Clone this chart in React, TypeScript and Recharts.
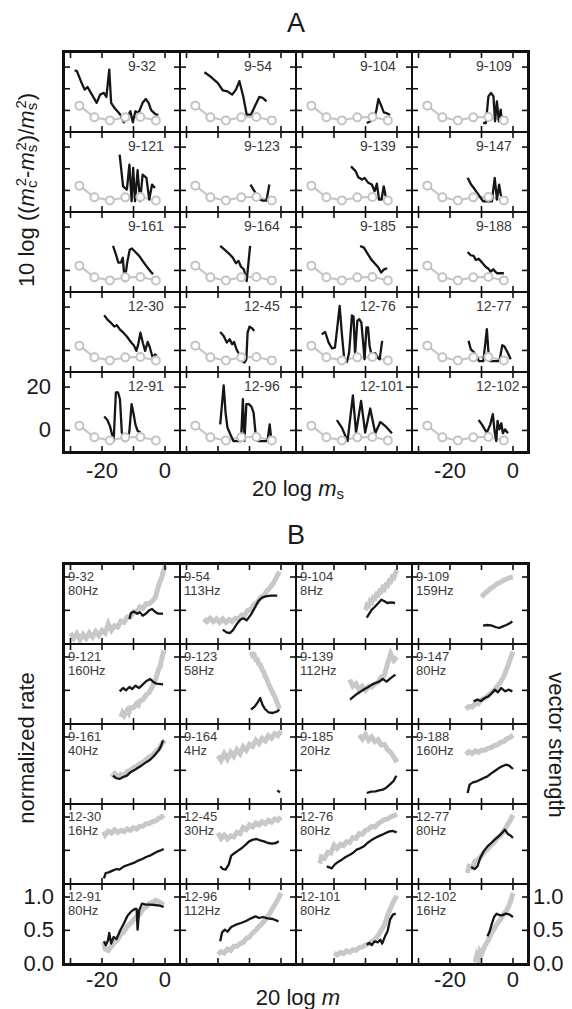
import React from 'react';
import { LineChart, Line, XAxis, YAxis } from 'recharts';

// ---------- shared cell geometry ----------
const CW = 114;
const CH = 78;
const GAP = 2;
const BORDER = 3;
const GRID_LEFT = 62;
const A_TOP = 50;
const B_TOP = 562;
const X_DOMAIN = [-31.75, 4.45];
const X_TICKS = [-30, -20, -10, 0];
const X_LABELS = [-20, 0];
const A_Y_DOMAIN = [-9.5, 26.5];
const A_Y_TICKS = [0, 10, 20];
const A_Y_LABELS = [20, 0];
const B_Y_DOMAIN = [0.01, 1.18];
const B_Y_TICKS = [0.5, 1];
const B_Y_LABELS = ['1.0', '0.5', '0.0'];
const B_Y_LABEL_VALUES = [1, 0.5, 0];

const FONT = '"Liberation Sans", Arial, Helvetica, sans-serif';

// ---------- panel A ----------
const units = [
  '9-32', '9-54', '9-104', '9-109',
  '9-121', '9-123', '9-139', '9-147',
  '9-161', '9-164', '9-185', '9-188',
  '12-30', '12-45', '12-76', '12-77',
  '12-91', '12-96', '12-101', '12-102',
];

// grey reference (open circles), same in every cell
const refX = [-27.2, -22.4, -17.5, -12.6, -7.8, -2.9];
const refY = [2.2, -3.2, -4.6, -3.2, -3.0, -4.6];

const a932 = [[-28.7, 18.5], [-28, 18.2], [-26.7, 13.5], [-25.5, 9.6], [-24.6, 10.8], [-23.2, 7.3], [-21.7, 3.5], [-20.6, 7.3], [-19.4, 8.1], [-18.6, 6.2], [-17.7, 18.8], [-17.1, 3.5], [-16, 1.1], [-14.2, -1.9], [-13.1, -5.5], [-12.1, -3.5], [-11, -0.4], [-10.2, -5.5], [-9.4, -0.4], [-8.4, -1.2], [-7.1, 3.5], [-6.1, 5.3], [-5.2, 3.5], [-4.4, 0.1], [-2.9, -1.9], [-2.1, -1.9]];
const a954 = [[-24.3, 17.6], [-22.2, 15.4], [-20.1, 12.7], [-18.5, 9.3], [-17, 8.8], [-15.5, 7.3], [-14.3, 9.6], [-13.2, 13.5], [-12, 6.5], [-10.9, -1.9], [-9.5, -1.9], [-8.3, 1.9], [-6.9, 6.2], [-5.8, 5.8], [-4.6, 4.2]];
const a9104 = [[-9.6, -5.8], [-8.4, -5], [-7.6, -1.9], [-7.1, -3], [-6.5, 0.4], [-5.9, 5.3], [-5, 2.2], [-4.2, -0.9], [-3.4, -1.2], [-2.2, -2.1]];
const a9109 = [[-9.5, -5.8], [-8.6, -5.8], [-7.8, 6.5], [-7, 8.1], [-6.2, 6.5], [-5.7, -5], [-5.1, 4.2], [-4.5, -5], [-3.9, 0.4], [-3.5, -5]];
const a9121 = [[-14.4, 16.5], [-13.3, 1.9], [-12.1, 0.4], [-11.3, 11.9], [-10.6, -5], [-10.1, 10.4], [-9.5, -5], [-8.7, 9.3], [-7.9, -5], [-7.1, 7.3], [-5.9, 5.8], [-5, -4.2], [-4.1, 2.7], [-3.2, 1.1]];
const a9123 = [[-9.7, 2.7], [-8.3, -0.7], [-6.9, -4.2], [-5.8, -4.7], [-4.6, -4.7], [-3.7, 2.7]];
const a9139 = [[-14.6, 11.1], [-13.1, 8.8], [-12.3, 6.1], [-11.1, 5], [-10.3, 5.8], [-9.1, 3.5], [-8, 2.7], [-7.1, -0.4], [-6.4, 3.1], [-5.7, -4.2], [-4.9, -4.2], [-4.2, 1.9], [-3.4, -4.2]];
const a9147 = [[-14.4, 5.8], [-13.3, 2.7], [-12.1, 0.4], [-10.6, -2.7], [-9.5, -5], [-8.1, -5], [-6.7, -5], [-5.8, 5.8], [-5.1, -4.2], [-4.4, 2.7], [-3.8, -2.7]];
const a9161 = [[-16.5, 11.3], [-15.6, 7.5], [-14.8, 3.6], [-14, 3.6], [-13.4, 5.9], [-12.8, -4.9], [-12, 3.6], [-11.2, 9.5], [-10.5, 10.1], [-9.4, 8.5], [-8.2, 6.7], [-7.1, 4.4], [-5.9, 2], [-4.7, -0.3], [-3.8, -1.8]];
const a9164 = [[-19.3, 11.3], [-18.1, 9.8], [-16.6, 7.9], [-15.3, 5.9], [-14.3, 3.3], [-13.5, 4.4], [-12.7, 1.7], [-11.8, 0.5], [-10.9, -4.9], [-9.8, 11.3]];
const a9185 = [[-11.7, 11.3], [-10.5, 10.5], [-9.4, 7.9], [-8.2, 5.1], [-7.1, 3.3], [-5.9, 1.3], [-5, -1], [-4.1, 0.5], [-3.1, 1]];
const a9188 = [[-14.4, 8.5], [-13.4, 7], [-12.5, 6.7], [-11.8, 4.8], [-10.9, 5.4], [-9.8, 3.6], [-8.7, 1.7], [-7.8, 0.8], [-7.1, -0.6], [-6.3, 0.5], [-5.1, -1.3], [-2.9, -1.3]];
const a1230 = [[-19.3, 16.2], [-18.2, 14.1], [-17.2, 12.8], [-16.1, 11], [-15.3, 11.6], [-14.2, 9.5], [-13.2, 8.2], [-12.1, 6.4], [-11.3, 4.8], [-10.5, 3.3], [-9.8, 2.1], [-9.1, -0.2], [-8.5, 2.8], [-7.8, 8.2], [-7, 3.3], [-6.3, -0.2], [-5.5, 3.9], [-4.9, 1.8], [-4.3, -1.3], [-3.7, -4.1], [-3.2, -1.8], [-2.6, -2.5]];
const a1245 = [[-19.3, 8.5], [-18.2, 6.7], [-17.2, 3.6], [-16.3, 5.2], [-15.5, 2.9], [-14.9, 3.9], [-14.2, 0.8], [-13.3, -1.8], [-12.3, -4.9], [-11.6, -5.6], [-11, -4.1], [-10.6, 8.2], [-10, 11], [-9.1, 10.1], [-8.5, 9]];
const a1276 = [[-23.9, 7.5], [-22.8, 8.5], [-21.7, 3.6], [-20.7, 1], [-19.7, 1.3], [-19, 10.1], [-18.2, 20.5], [-17.5, 7.5], [-16.8, -3.3], [-15.9, -5.3], [-15.2, -1], [-14.3, 16.2], [-13.8, 15.6], [-13.3, -1.8], [-12.6, 13.6], [-12, 14.4], [-11.3, 12.8], [-10.8, 4.4], [-10.3, -4.1], [-9.7, 10.6], [-9.2, 10.6], [-8.7, 2.1], [-8.2, -1.3], [-6.9, -1.3], [-6.1, -3.3], [-5.5, -4.1], [-4.7, 4.4]];
const a1277 = [[-14.1, 4.4], [-13.4, 0.5], [-12.5, -0.7], [-11.7, -2.5], [-10.8, -4.9], [-9.4, -4.9], [-8.3, 9.8], [-7.6, -4.9], [-4.3, -4.9], [-3.4, 2.4], [-2.7, 1.8], [-1.7, -1], [-0.7, -4.1]];
const a1291 = [[-19.3, 6.4], [-18.3, 4.8], [-17.5, 2.1], [-16.9, -1.3], [-16.3, -4.9], [-15.6, 17.5], [-14.9, 17.5], [-14.3, 14.4], [-13.7, -1], [-13, -4.9], [-11.8, -4.4], [-11.3, -0.2], [-10.6, 12.1], [-10, 7.9], [-9.4, 2.8], [-8.7, -0.2], [-7.8, -1]];
const a1296 = [[-19.3, 2.8], [-18.2, 20.8], [-17.6, 8.2], [-17, 1.3], [-16.1, -1.8], [-15.1, -4.9], [-12.7, -4.9], [-12.1, 14.4], [-11.6, -4.9], [-11, 12.1], [-10.2, 12.1], [-9.4, 11], [-8.7, 8.2], [-8.1, -1], [-7.3, -4.9], [-4.3, -4.9], [-3.6, 2.8], [-3, -4.9], [-1.9, -4.9]];
const a12101 = [[-19.1, 4.8], [-17.5, 1.3], [-15.7, -4.9], [-14, 16.2], [-13, -1], [-11.4, 13.6], [-10.1, -1], [-8.5, 10.1], [-6.9, -1.3], [-5.3, 3.9], [-3.7, 2], [-1.6, -1.3]];
const a12102 = [[-10.9, 4.8], [-9.9, 2.8], [-9.1, 0.8], [-8.3, -1], [-7.2, 2.8], [-6.4, 7.5], [-5.8, -1], [-5.3, -4.9], [-4.9, 4.4], [-4.3, 0.5], [-3.7, 3.3], [-3.2, -1.3], [-2.5, 0.5], [-1.6, -1.3]];

const tracesA = [a932, a954, a9104, a9109, a9121, a9123, a9139, a9147, a9161, a9164, a9185, a9188, a1230, a1245, a1276, a1277, a1291, a1296, a12101, a12102];

// ---------- panel B ----------
const freqs = ['80Hz', '113Hz', '8Hz', '159Hz', '160Hz', '58Hz', '112Hz', '80Hz', '40Hz', '4Hz', '20Hz', '160Hz', '16Hz', '30Hz', '80Hz', '80Hz', '80Hz', '112Hz', '80Hz', '16Hz'];

// normalized rate (grey)
const r932 = [[-30, 0.16], [-29, 0.08], [-28, 0.15], [-27, 0.06], [-26, 0.14], [-25, 0.08], [-24, 0.16], [-23, 0.1], [-22, 0.18], [-21, 0.12], [-20, 0.2], [-19, 0.16], [-18, 0.3], [-17, 0.2], [-16, 0.27], [-15, 0.25], [-14, 0.34], [-13, 0.32], [-12, 0.4], [-11, 0.4], [-10, 0.48], [-9, 0.47], [-8, 0.55], [-7, 0.53], [-6, 0.6], [-5, 0.6], [-4, 0.64], [-3, 0.7], [-2, 0.88], [-1, 1.0], [0, 1.17]];
const r954 = [[-24.5, 0.37], [-23.5, 0.33], [-22.5, 0.38], [-21.5, 0.33], [-20.5, 0.37], [-19.5, 0.32], [-18.5, 0.37], [-17.5, 0.32], [-16.5, 0.36], [-15.5, 0.33], [-14.5, 0.38], [-13.5, 0.37], [-12.5, 0.43], [-11.5, 0.43], [-10.5, 0.5], [-9.5, 0.52], [-8.5, 0.59], [-7.5, 0.62], [-6.5, 0.69], [-5.5, 0.72], [-4.5, 0.79], [-3.5, 0.84], [-2.5, 0.9], [-1.5, 0.99], [-0.5, 1.08]];
const r9104 = [[-10, 0.5], [-9.5, 0.58], [-9, 0.57], [-8.5, 0.64], [-8, 0.62], [-7.5, 0.69], [-7, 0.68], [-6.5, 0.74], [-6, 0.73], [-5.5, 0.79], [-5, 0.78], [-4.5, 0.84], [-4, 0.82], [-3.5, 0.88], [-3, 0.87], [-2.5, 0.94], [-2, 0.93], [-1.5, 1.0], [-1, 0.99], [-0.5, 1.06], [0, 1.1]];
const r9109 = [[-10, 0.7], [-9, 0.75], [-8, 0.79], [-7, 0.83], [-6, 0.86], [-5, 0.9], [-4, 0.92], [-3, 0.95], [-2, 0.97], [-1, 0.99], [0, 1.0]];
const r9121 = [[-14, 0.1], [-13.5, 0.16], [-13, 0.12], [-12, 0.2], [-11.5, 0.16], [-11, 0.24], [-10, 0.24], [-9, 0.3], [-8.5, 0.28], [-8, 0.34], [-7, 0.36], [-6, 0.43], [-5, 0.47], [-4, 0.56], [-3, 0.66], [-2.5, 0.74], [-2, 0.82], [-1.5, 0.86], [-1, 0.98], [-0.3, 1.1]];
const r9123 = [[-9.5, 1.08], [-9, 1.02], [-8.5, 1.03], [-8, 0.96], [-7.5, 0.96], [-7, 0.89], [-6.5, 0.88], [-6, 0.81], [-5.5, 0.78], [-5, 0.71], [-4.5, 0.67], [-4, 0.6], [-3.5, 0.55], [-3, 0.5], [-2.5, 0.45], [-2, 0.41], [-1.5, 0.35], [-1, 0.29], [-0.5, 0.22]];
const r9139 = [[-15, 0.66], [-14, 0.56], [-13, 0.6], [-12, 0.5], [-11, 0.56], [-10, 0.5], [-9, 0.56], [-8, 0.55], [-7, 0.6], [-6, 0.62], [-5, 0.7], [-4, 0.72], [-3, 0.9], [-2, 1.05], [-1, 0.95], [0, 1.0]];
const r9147 = [[-15, 0.22], [-14, 0.26], [-13, 0.25], [-12, 0.3], [-11, 0.3], [-10, 0.36], [-9, 0.38], [-8, 0.42], [-7, 0.46], [-6, 0.5], [-5, 0.56], [-4, 0.62], [-3, 0.7], [-2, 0.82], [-1, 0.95], [0, 1.08]];
const r9161 = [[-17, 0.4], [-16, 0.45], [-15, 0.4], [-14, 0.44], [-13, 0.42], [-12, 0.48], [-11, 0.5], [-10, 0.54], [-9, 0.56], [-8, 0.6], [-7, 0.62], [-6, 0.66], [-5, 0.7], [-4, 0.72], [-3, 0.78], [-2, 0.82], [-1, 0.9], [0, 0.95]];
const r9164 = [[-20, 0.72], [-19, 0.65], [-18, 0.75], [-17, 0.67], [-16, 0.77], [-15, 0.71], [-14, 0.81], [-13, 0.75], [-12, 0.85], [-11, 0.8], [-10, 0.89], [-9, 0.86], [-8, 0.95], [-7, 0.9], [-6, 0.98], [-5, 0.94], [-4, 1.02], [-3, 0.98], [-2, 1.05], [-1, 1.02], [0, 1.09]];
const r9185 = [[-12, 1.03], [-11, 0.97], [-10, 1.04], [-9, 0.95], [-8, 1.0], [-7, 0.93], [-6, 0.96], [-5, 0.88], [-4, 0.89], [-3, 0.81], [-2, 0.77], [-1, 0.7], [0, 0.62]];
const r9188 = [[-15, 0.74], [-14, 0.78], [-13, 0.75], [-12, 0.79], [-11, 0.77], [-10, 0.8], [-9, 0.8], [-8, 0.83], [-7, 0.84], [-6, 0.87], [-5, 0.88], [-4, 0.92], [-3, 0.93], [-2, 0.97], [-1, 0.99], [0, 1.03]];
const r1230 = [[-19.5, 0.78], [-19, 0.73], [-18, 0.79], [-17, 0.76], [-16, 0.81], [-15, 0.77], [-14, 0.8], [-13, 0.78], [-12, 0.82], [-11, 0.8], [-10, 0.84], [-9, 0.82], [-8, 0.86], [-7, 0.86], [-6, 0.9], [-5, 0.9], [-4, 0.93], [-3, 0.94], [-2, 0.98], [-1, 1.0], [-0.4, 1.03]];
const r1245 = [[-20, 0.76], [-19, 0.68], [-18, 0.73], [-17, 0.67], [-16, 0.72], [-15, 0.7], [-14, 0.77], [-13, 0.75], [-12, 0.84], [-11, 0.81], [-10, 0.88], [-9, 0.85], [-8, 0.91], [-7, 0.88], [-6, 0.93], [-5, 0.9], [-4, 0.95], [-3, 0.92], [-2, 0.97], [-1, 0.95], [0, 1.0]];
const r1276 = [[-24.5, 0.3], [-24, 0.4], [-23, 0.38], [-22, 0.47], [-21, 0.46], [-20, 0.58], [-19, 0.53], [-18, 0.59], [-17, 0.57], [-16, 0.63], [-15, 0.62], [-14, 0.69], [-13, 0.68], [-12, 0.75], [-11, 0.74], [-10, 0.8], [-9, 0.82], [-8, 0.86], [-7, 0.85], [-6, 0.9], [-5, 0.93], [-4, 0.96], [-3, 0.97], [-2, 1.0], [-1, 1.02], [0, 1.04]];
const r1277 = [[-14.5, 0.16], [-14, 0.26], [-13, 0.24], [-12, 0.34], [-11, 0.36], [-10, 0.42], [-9, 0.48], [-8, 0.52], [-7, 0.58], [-6, 0.62], [-5, 0.68], [-4, 0.72], [-3, 0.78], [-2, 0.86], [-1, 0.94], [0, 1.03]];
const r1291 = [[-19.4, 0.32], [-19, 0.22], [-18, 0.2], [-17, 0.26], [-16, 0.32], [-15, 0.36], [-14, 0.44], [-13, 0.48], [-12, 0.56], [-11, 0.6], [-10, 0.66], [-9, 0.7], [-8, 0.74], [-7, 0.82], [-6, 0.85], [-5, 0.9], [-4, 0.92], [-3, 0.95], [-2, 0.93], [-1, 0.9], [-0.4, 0.88]];
const r1296 = [[-20, 0.14], [-19, 0.18], [-18, 0.16], [-17, 0.22], [-16, 0.2], [-15, 0.26], [-14, 0.26], [-13, 0.3], [-12, 0.32], [-11, 0.38], [-10, 0.4], [-9, 0.46], [-8, 0.5], [-7, 0.56], [-6, 0.6], [-5, 0.66], [-4, 0.72], [-3, 0.8], [-2, 0.88], [-1, 0.96], [0, 1.06]];
const r12101 = [[-20, 0.16], [-19, 0.13], [-18, 0.17], [-17, 0.15], [-16, 0.19], [-15, 0.17], [-14, 0.21], [-13, 0.2], [-12, 0.24], [-11, 0.25], [-10, 0.28], [-9, 0.3], [-8, 0.33], [-7, 0.36], [-6, 0.42], [-5, 0.5], [-4, 0.58], [-3, 0.72], [-2, 0.84], [-1, 0.94], [0, 1.02]];
const r12102 = [[-12, 0.02], [-11.5, 0.12], [-11, 0.06], [-10.5, 0.18], [-10, 0.14], [-9, 0.26], [-8, 0.34], [-7, 0.44], [-6, 0.52], [-5, 0.6], [-4, 0.66], [-3, 0.74], [-2, 0.8], [-1, 0.9], [0, 1.06]];

// vector strength (black)
const v932 = [[-11.3, 0.37], [-10.8, 0.46], [-9.8, 0.48], [-8.9, 0.45], [-7.9, 0.47], [-7.1, 0.42], [-6.1, 0.45], [-5, 0.5], [-4.1, 0.52], [-3.2, 0.48], [-2.1, 0.45], [-0.6, 0.45]];
const v954 = [[-18.5, 0.21], [-17.3, 0.17], [-16.2, 0.16], [-15.3, 0.2], [-14.1, 0.29], [-12.9, 0.36], [-12, 0.38], [-10.9, 0.35], [-9.5, 0.44], [-8.3, 0.54], [-7.2, 0.64], [-6, 0.69], [-4.9, 0.71], [-3.2, 0.72], [-1.2, 0.72]];
const v9104 = [[-9.6, 0.39], [-8.8, 0.45], [-8, 0.51], [-7.1, 0.55], [-5.9, 0.61], [-5, 0.66], [-4.1, 0.64], [-3.1, 0.61], [-1.9, 0.62], [-0.6, 0.61]];
const v9109 = [[-9.5, 0.27], [-8.1, 0.28], [-6.7, 0.27], [-5.6, 0.25], [-4.4, 0.235], [-3.2, 0.26], [-2.1, 0.28], [-0.9, 0.31], [-0.2, 0.335]];
const v9121 = [[-14.4, 0.485], [-13.3, 0.535], [-12.4, 0.5], [-11.3, 0.55], [-10.4, 0.52], [-9.4, 0.57], [-8.2, 0.535], [-7.1, 0.585], [-5.9, 0.64], [-4.7, 0.67], [-3.8, 0.63], [-2.7, 0.6], [-0.6, 0.59]];
const v9123 = [[-9.5, 0.21], [-8.3, 0.26], [-7.4, 0.32], [-6.6, 0.385], [-5.9, 0.285], [-5.1, 0.22], [-3.9, 0.17], [-2.6, 0.16], [-1.2, 0.185], [-0.5, 0.21]];
const v9139 = [[-14.9, 0.36], [-13.7, 0.41], [-12.6, 0.45], [-11.4, 0.485], [-10.3, 0.52], [-9.1, 0.55], [-8, 0.585], [-6.8, 0.61], [-5.7, 0.63], [-4.5, 0.67], [-3.3, 0.63], [-2.1, 0.68], [-0.5, 0.735]];
const v9147 = [[-12.5, 0.335], [-11.3, 0.36], [-10.2, 0.34], [-9, 0.385], [-7.8, 0.41], [-6.7, 0.46], [-5.8, 0.51], [-4.8, 0.47], [-3.7, 0.535], [-2.5, 0.485], [-1.4, 0.51], [-0.2, 0.485]];
const v9161 = [[-16.5, 0.42], [-15.6, 0.385], [-14.4, 0.37], [-13.3, 0.4], [-12.1, 0.42], [-11, 0.47], [-9.8, 0.5], [-8.7, 0.535], [-7.5, 0.57], [-6.6, 0.6], [-5.7, 0.63], [-4.7, 0.66], [-3.8, 0.7], [-2.9, 0.75], [-2, 0.8], [-1.3, 0.86], [-0.6, 0.95]];
const v9164 = [[-1.2, 0.2], [-0.3, 0.17]];
const v9185 = [[-9.6, 0.16], [-8.2, 0.18], [-6.8, 0.185], [-5.7, 0.2], [-4.5, 0.21], [-3.4, 0.24], [-2.2, 0.29], [-1.1, 0.34], [-0.2, 0.42]];
const v9188 = [[-14.4, 0.16], [-13.8, 0.285], [-12.7, 0.32], [-11.5, 0.335], [-10.4, 0.36], [-9.3, 0.385], [-8.1, 0.41], [-7, 0.45], [-5.8, 0.49], [-4.6, 0.53], [-3.4, 0.56], [-2.3, 0.585], [-1.2, 0.57], [0, 0.52]];
const v1230 = [[-19.4, 0.08], [-18.8, 0.16], [-17.9, 0.17], [-16.5, 0.2], [-15.3, 0.22], [-14.5, 0.21], [-13, 0.26], [-11.8, 0.28], [-10.6, 0.3], [-9.5, 0.32], [-8.3, 0.35], [-7.2, 0.37], [-6, 0.4], [-4.8, 0.42], [-3.7, 0.45], [-2.5, 0.48], [-1.3, 0.5], [-0.4, 0.52]];
const v1245 = [[-19.3, 0.26], [-18.5, 0.22], [-17.6, 0.21], [-16.6, 0.285], [-15.8, 0.42], [-14.7, 0.46], [-13.5, 0.5], [-12.4, 0.535], [-11.2, 0.585], [-10.1, 0.635], [-8.9, 0.66], [-7.8, 0.67], [-6.6, 0.65], [-5.4, 0.635], [-4.1, 0.61], [-2.8, 0.6], [-1.6, 0.61], [-0.7, 0.635]];
const v1276 = [[-22.3, 0.26], [-20.7, 0.23], [-19.8, 0.285], [-18.6, 0.33], [-17.5, 0.36], [-16.3, 0.4], [-15.1, 0.43], [-14, 0.46], [-12.8, 0.51], [-11.7, 0.53], [-10.5, 0.56], [-9.4, 0.61], [-8.2, 0.65], [-7.1, 0.68], [-5.9, 0.71], [-4.7, 0.735], [-3.6, 0.76], [-2.4, 0.785], [-1.3, 0.79], [-0.1, 0.77]];
const v1277 = [[-13.3, 0.25], [-12.1, 0.22], [-11.3, 0.26], [-10.4, 0.385], [-9.3, 0.485], [-8.1, 0.56], [-6.9, 0.61], [-5.8, 0.66], [-4.6, 0.71], [-3.5, 0.76], [-2.6, 0.81], [-1.6, 0.745], [-0.7, 0.72], [0, 0.685]];
const v1291 = [[-19.4, 0.335], [-18.8, 0.275], [-18.1, 0.35], [-17.7, 0.46], [-17.1, 0.3], [-16.3, 0.4], [-15.4, 0.37], [-14.2, 0.5], [-13.1, 0.6], [-11.9, 0.72], [-10.8, 0.78], [-9.6, 0.82], [-9, 0.82], [-8.7, 0.51], [-8.2, 0.8], [-7.3, 0.9], [-6.1, 0.885], [-4.7, 0.885], [-3.2, 0.88], [-1.7, 0.87], [-0.4, 0.85]];
const v1296 = [[-19.3, 0.335], [-18.7, 0.47], [-17.8, 0.51], [-17, 0.48], [-15.8, 0.55], [-14.3, 0.585], [-12.7, 0.61], [-11.1, 0.64], [-9.5, 0.68], [-8.1, 0.71], [-6.9, 0.685], [-5.8, 0.7], [-4.2, 0.68], [-2.6, 0.67], [-0.8, 0.635]];
const v12101 = [[-9.6, 0.285], [-8.8, 0.31], [-8, 0.28], [-7.1, 0.335], [-6.1, 0.32], [-5.3, 0.36], [-4.7, 0.3], [-3.8, 0.41], [-3, 0.485], [-2.2, 0.66], [-1.3, 0.735], [-0.4, 0.75]];
const v12102 = [[-8.1, 0.41], [-7.4, 0.485], [-6.7, 0.6], [-6, 0.7], [-5.2, 0.75], [-4.4, 0.73], [-3.5, 0.725], [-2.3, 0.75], [-1.2, 0.74], [0, 0.7]];

const rateB = [r932, r954, r9104, r9109, r9121, r9123, r9139, r9147, r9161, r9164, r9185, r9188, r1230, r1245, r1276, r1277, r1291, r1296, r12101, r12102];
const vsB = [v932, v954, v9104, v9109, v9121, v9123, v9139, v9147, v9161, v9164, v9185, v9188, v1230, v1245, v1276, v1277, v1291, v1296, v12101, v12102];

// ---------- helpers ----------
const toPts = (arr: number[][]) => arr.map(([x, y]) => ({ x, y }));
const refPts = refX.map((x, i) => ({ x, y: refY[i] }));

const pitch = (n: number) => BORDER + n * (CH + GAP);
const colLeft = (c: number) => GRID_LEFT + BORDER + c * (CW + GAP);
const xPix = (v: number) => ((v - X_DOMAIN[0]) / (X_DOMAIN[1] - X_DOMAIN[0])) * CW;
const yPix = (v: number, d: number[]) => ((d[1] - v) / (d[1] - d[0])) * CH;
const GRID_H = 2 * BORDER + 5 * CH + 4 * GAP;

const tickLineStyle = { stroke: '#111', strokeWidth: 1.6 };
const noLabel = () => <g />;

function Cell({ yDomain, yTicks, children, label }: any) {
  const common = {
    type: 'number' as const, tick: noLabel, axisLine: false, tickLine: tickLineStyle,
    stroke: '#111', tickSize: 5, allowDataOverflow: true, mirror: true, interval: 0,
  };
  return (
    <div style={{ position: 'relative', width: CW, height: CH, background: '#fff', overflow: 'hidden' }}>
      <LineChart width={CW} height={CH} margin={{ top: 0, right: 0, bottom: 0, left: 0 }}>
        <XAxis {...common} xAxisId="b" dataKey="x" domain={X_DOMAIN} ticks={X_TICKS} orientation="bottom" />
        <XAxis {...common} xAxisId="t" dataKey="x" domain={X_DOMAIN} ticks={X_TICKS} orientation="top" />
        <YAxis {...common} yAxisId="l" dataKey="y" domain={yDomain} ticks={yTicks} orientation="left" />
        <YAxis {...common} yAxisId="r" dataKey="y" domain={yDomain} ticks={yTicks} orientation="right" />
        {children}
      </LineChart>
      {label}
    </div>
  );
}

function Grid({ top, children }: any) {
  return (
    <div
      style={{
        position: 'absolute', left: GRID_LEFT, top, display: 'grid',
        gridTemplateColumns: `repeat(4, ${CW}px)`, gridAutoRows: `${CH}px`,
        gap: GAP, padding: BORDER, background: '#111',
      }}
    >
      {children}
    </div>
  );
}

const txt = (left: number, top: number, content: React.ReactNode, extra: any = {}) => (
  <div
    style={{
      position: 'absolute', left, top, transform: 'translate(-50%, -50%)',
      whiteSpace: 'nowrap', fontSize: 22, lineHeight: 1, color: '#1a1a1a', ...extra,
    }}
  >
    {content}
  </div>
);

const sub = (s: string) => <sub style={{ fontSize: '0.68em', verticalAlign: '-0.25em' }}>{s}</sub>;
const sup = (s: string) => <sup style={{ fontSize: '0.68em', verticalAlign: '0.55em', marginLeft: '-0.38em' }}>{s}</sup>;
const mi = <i>m</i>;

export default function App() {
  const aBottom = A_TOP + GRID_H;
  const bBottom = B_TOP + GRID_H;
  return (
    <div style={{ position: 'absolute', left: 0, top: 0, width: 572, height: 1009, background: '#fff', fontFamily: FONT, overflow: 'hidden' }}>
      {txt(296, 23, 'A', { fontSize: 27 })}
      {txt(296, 535, 'B', { fontSize: 27 })}

      <Grid top={A_TOP}>
        {units.map((u, i) => (
          <Cell
            key={u}
            yDomain={A_Y_DOMAIN}
            yTicks={A_Y_TICKS}
            label={<div style={{ position: 'absolute', left: 63, top: 6, fontSize: 14, lineHeight: '14px', color: '#3a3a3a' }}>{u}</div>}
          >
            <Line xAxisId="b" yAxisId="l" data={refPts} dataKey="y" stroke="#c4c4c4" strokeWidth={2}
              dot={{ r: 4, stroke: '#c4c4c4', strokeWidth: 2, fill: '#fff' }} isAnimationActive={false} />
            <Line xAxisId="b" yAxisId="l" data={toPts(tracesA[i])} dataKey="y" stroke="#161616" strokeWidth={2.3}
              dot={false} isAnimationActive={false} strokeLinejoin="round" />
          </Cell>
        ))}
      </Grid>

      <Grid top={B_TOP}>
        {units.map((u, i) => (
          <Cell
            key={u}
            yDomain={B_Y_DOMAIN}
            yTicks={B_Y_TICKS}
            label={
              <div style={{ position: 'absolute', left: 3, top: 5, fontSize: 13, lineHeight: '13.5px', color: '#3a3a3a' }}>
                <div>{u}</div>
                <div>{freqs[i]}</div>
              </div>
            }
          >
            <Line xAxisId="b" yAxisId="l" data={toPts(rateB[i])} dataKey="y" stroke="#c8c8c8" strokeWidth={5}
              dot={false} isAnimationActive={false} />
            <Line xAxisId="b" yAxisId="l" data={toPts(vsB[i])} dataKey="y" stroke="#161616" strokeWidth={2.3}
              dot={false} isAnimationActive={false} strokeLinejoin="round" />
          </Cell>
        ))}
      </Grid>

      {/* x tick labels, under the first and last column */}
      {[0, 3].flatMap((c) =>
        X_LABELS.map((v) => (
          <React.Fragment key={`x${c}${v}`}>
            {txt(colLeft(c) + xPix(v), aBottom + 17, String(v))}
            {txt(colLeft(c) + xPix(v), bBottom + 14, String(v))}
          </React.Fragment>
        )),
      )}

      {/* y tick labels */}
      {A_Y_LABELS.map((v) => (
        <div key={`ay${v}`} style={{ position: 'absolute', right: 572 - 51, top: A_TOP + pitch(4) + yPix(v, A_Y_DOMAIN), transform: 'translateY(-50%)', fontSize: 22, lineHeight: 1, color: '#1a1a1a' }}>{v}</div>
      ))}
      {B_Y_LABELS.map((s, i) => (
        <React.Fragment key={`by${s}`}>
          <div style={{ position: 'absolute', right: 572 - 54, top: B_TOP + pitch(4) + yPix(B_Y_LABEL_VALUES[i], B_Y_DOMAIN), transform: 'translateY(-50%)', fontSize: 22, lineHeight: 1, color: '#1a1a1a' }}>{s}</div>
          <div style={{ position: 'absolute', left: 533, top: B_TOP + pitch(4) + yPix(B_Y_LABEL_VALUES[i], B_Y_DOMAIN), transform: 'translateY(-50%)', fontSize: 22, lineHeight: 1, color: '#1a1a1a' }}>{s}</div>
        </React.Fragment>
      ))}

      {/* axis titles */}
      {txt(298, aBottom + 36, <span>20 log {mi}{sub('s')}</span>)}
      {txt(298, bBottom + 32, <span>20 log {mi}</span>)}
      {txt(27, 190, <span>10 log (({mi}{sub('c')}{sup('2')}-{mi}{sub('s')}{sup('2')})/{mi}{sub('s')}{sup('2')})</span>, { transform: 'translate(-50%, -50%) rotate(-90deg)' })}
      {txt(27, 748, 'normalized rate', { transform: 'translate(-50%, -50%) rotate(-90deg)' })}
      {txt(556, 745, 'vector strength', { transform: 'translate(-50%, -50%) rotate(90deg)' })}
    </div>
  );
}
